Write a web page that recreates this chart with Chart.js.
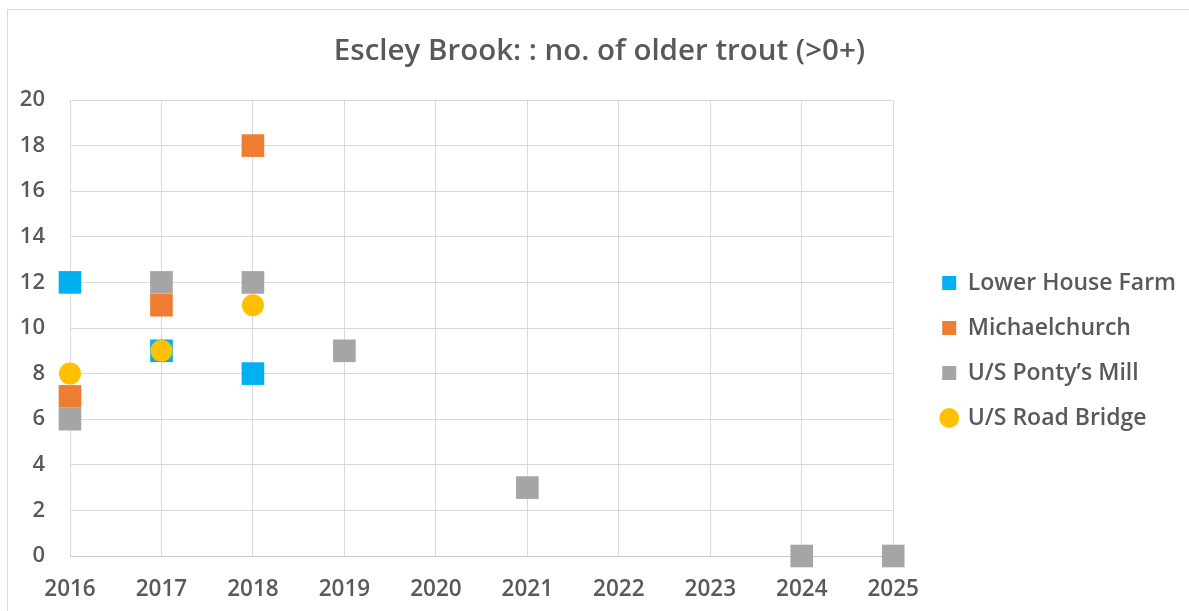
<!DOCTYPE html>
<html>
<head>
<meta charset="utf-8">
<title>Escley Brook older trout</title>
<script src="https://cdn.jsdelivr.net/npm/chart.js@4/dist/chart.umd.min.js"></script>
<style>
  html, body { margin: 0; padding: 0; background: #ffffff; }
  canvas { display: block; }
</style>
</head>
<body>
<canvas id="troutChart" width="1189" height="611"></canvas>
<script>
const years = [2016, 2017, 2018, 2019, 2020, 2021, 2022, 2023, 2024, 2025];
const yTicks = [0, 2, 4, 6, 8, 10, 12, 14, 16, 18, 20];

// counts per survey site, null = not surveyed that year
const lowerHouseFarm = [12, 9, 8, null, null, null, null, null, null, null];
const michaelchurch = [7, 11, 18, null, null, null, null, null, null, null];
const pontysMill = [6, 12, 12, 9, null, 3, null, null, 0, 0];
const roadBridge = [8, 9, 11, null, null, null, null, null, null, null];

const textColor = '#595959';
const gridColor = '#D9D9D9';
const fontFamily = 'Open Sans';

function toPoints(values) {
    return years
        .map((year, i) => ({ x: year, y: values[i] }))
        .filter(p => p.y !== null);
}

function series(label, values, color, style, radius, order) {
    return {
        label: label,
        data: toPoints(values),
        backgroundColor: color,
        borderColor: color,
        borderWidth: 0,
        pointStyle: style,
        pointRadius: radius,
        pointHoverRadius: radius,
        clip: false,
        order: order
    };
}

// frame around the whole chart, like the spreadsheet chart border
const chartFrame = {
    id: 'chartFrame',
    beforeDraw(chart) {
        const ctx = chart.ctx;
        ctx.save();
        ctx.strokeStyle = gridColor;
        ctx.lineWidth = 1;
        ctx.strokeRect(7.5, 9.5, chart.width, chart.height);
        ctx.restore();
    }
};

// push the legend away from the plot and down, and centre the title on the frame
const boxNudge = {
    id: 'boxNudge',
    afterLayout(chart) {
        const lg = chart.legend;
        lg.left += 27;
        lg.right += 27;
        lg.top += 45;
        lg.bottom += 45;
        const tb = chart.titleBlock;
        tb.left += 15;
        tb.right += 15;
    }
};

const ctx = document.getElementById('troutChart').getContext('2d');
const chart = new Chart(ctx, {
    type: 'scatter',
    data: {
        datasets: [
            series('Lower House Farm', lowerHouseFarm, '#00B0F0', 'rect', 16, 4),
            series('Michaelchurch', michaelchurch, '#ED7D31', 'rect', 16, 3),
            series('U/S Ponty\u2019s Mill', pontysMill, '#A5A5A5', 'rect', 16, 2),
            series('U/S Road Bridge', roadBridge, '#FFC000', 'circle', 11, 1)
        ]
    },
    options: {
        responsive: false,
        animation: false,
        layout: {
            padding: { left: 10, right: 30, top: 0, bottom: 0 }
        },
        plugins: {
            title: {
                display: true,
                text: 'Escley Brook: : no. of older trout (>0+)',
                color: textColor,
                font: { family: fontFamily, size: 29.5, weight: '600' },
                padding: { top: 34, bottom: 30.6 }
            },
            legend: {
                position: 'right',
                labels: {
                    usePointStyle: true,
                    boxWidth: 14,
                    boxHeight: 14,
                    padding: 22,
                    color: textColor,
                    font: { family: fontFamily, size: 23, weight: '600' },
                    sort: (a, b) => a.datasetIndex - b.datasetIndex
                }
            },
            tooltip: { enabled: false }
        },
        scales: {
            x: {
                type: 'linear',
                min: years[0],
                max: years[years.length - 1],
                afterBuildTicks: axis => {
                    axis.ticks = years.map(v => ({ value: v }));
                },
                afterFit: axis => { axis.height = 55; },
                grid: { color: gridColor, drawTicks: false },
                border: { color: '#C8C8C8' },
                ticks: {
                    color: textColor,
                    font: { family: fontFamily, size: 22.5, weight: '600' },
                    padding: 20,
                    callback: v => String(v)
                }
            },
            y: {
                min: 0,
                max: 20,
                afterBuildTicks: axis => {
                    axis.ticks = yTicks.map(v => ({ value: v }));
                },
                afterFit: axis => { axis.width = 60; },
                grid: { color: gridColor, drawTicks: false },
                border: { display: false },
                ticks: {
                    color: textColor,
                    font: { family: fontFamily, size: 22, weight: '600' },
                    padding: 25
                }
            }
        }
    },
    plugins: [chartFrame, boxNudge]
});
</script>
</body>
</html>
